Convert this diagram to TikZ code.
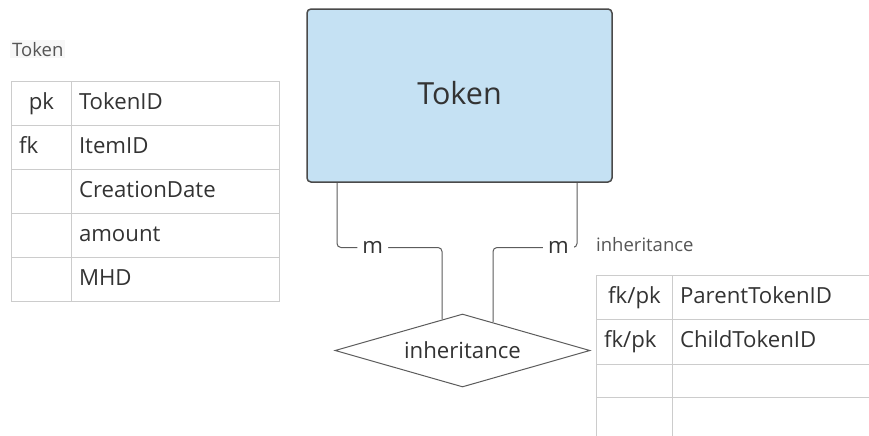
\documentclass[tikz,border=0pt]{standalone}
\usepackage{fontspec}
\setmainfont{Open Sans}
\usetikzlibrary{shapes.geometric}

\definecolor{entityfill}{HTML}{C5E1F3}
\definecolor{entityline}{HTML}{4A4A4A}
\definecolor{gridline}{HTML}{CCCCCC}
\definecolor{linkline}{HTML}{5C5C5C}
\definecolor{ink}{HTML}{333333}
\definecolor{caption}{HTML}{555555}

\newcommand{\attrfont}{\fontsize{22.2bp}{26bp}\selectfont}
\newcommand{\titlefont}{\fontsize{18.5bp}{22bp}\selectfont}
\newcommand{\entityfont}{\fontsize{30.5bp}{36bp}\selectfont}

\begin{document}
\begin{tikzpicture}[
	every node/.style={text=ink},
	cell/.style={draw=gridline, line width=1bp, anchor=north west, minimum height=44bp,
		inner xsep=7.5bp, inner ysep=0bp, text height=16bp, text depth=4.5bp,
		font=\attrfont, align=left},
	title/.style={anchor=base west, text=caption, font=\titlefont, inner sep=2bp},
	entity/.style={rectangle, rounded corners=4bp, draw=entityline, line width=1.5bp,
		fill=entityfill, minimum width=305bp, minimum height=173bp, text depth=6bp,
		font=\entityfont},
	relation/.style={diamond, aspect=3.5, draw=linkline, line width=1bp, fill=white,
		minimum width=255bp, minimum height=73bp, inner sep=0bp, font=\attrfont},
	link/.style={draw=linkline, line width=1bp, rounded corners=4bp},
	card/.style={fill=white, inner xsep=5bp, inner ysep=2bp, font=\attrfont}
]
	\path[use as bounding box] (0bp,0bp) rectangle (869bp,-436bp);
	\clip (0bp,0bp) rectangle (869bp,-436bp);

	% table Token
	\node[title, fill=black!3] (tk-title) at (10bp,-56bp) {Token};
	\node[cell, text width=45bp, align=center] (tk-k1) at (11bp,-81bp)  {pk};
	\node[cell, text width=193bp]              (tk-f1) at (71bp,-81bp)  {TokenID};
	\node[cell, text width=45bp]               (tk-k2) at (11bp,-125bp) {fk};
	\node[cell, text width=193bp]              (tk-f2) at (71bp,-125bp) {ItemID};
	\node[cell, text width=45bp]               (tk-k3) at (11bp,-169bp) {};
	\node[cell, text width=193bp]              (tk-f3) at (71bp,-169bp) {CreationDate};
	\node[cell, text width=45bp]               (tk-k4) at (11bp,-213bp) {};
	\node[cell, text width=193bp]              (tk-f4) at (71bp,-213bp) {amount};
	\node[cell, text width=45bp]               (tk-k5) at (11bp,-257bp) {};
	\node[cell, text width=193bp]              (tk-f5) at (71bp,-257bp) {MHD};

	% table inheritance
	\node[title] (inh-title) at (594bp,-251bp) {inheritance};
	\node[cell, text width=61bp, align=center] (ih-k1) at (596bp,-275bp) {fk/pk};
	\node[cell, text width=215bp]              (ih-f1) at (672bp,-275bp) {ParentTokenID};
	\node[cell, text width=61bp, minimum height=45bp] (ih-k2) at (596bp,-319bp) {fk/pk};
	\node[cell, text width=215bp, minimum height=45bp] (ih-f2) at (672bp,-319bp) {ChildTokenID};
	\node[cell, text width=61bp, minimum height=33bp] (ih-k3) at (596bp,-364bp) {};
	\node[cell, text width=215bp, minimum height=33bp] (ih-f3) at (672bp,-364bp) {};
	\node[cell, text width=61bp]               (ih-k4) at (596bp,-397bp) {};
	\node[cell, text width=215bp]              (ih-f4) at (672bp,-397bp) {};

	% ER part
	\node[entity]   (token) at (459.5bp,-95.5bp)  {Token};
	\node[relation] (inh)   at (462.5bp,-350.5bp) {inheritance};

	\draw[link] ([xshift=-122.5bp]token.south)
		|- node[pos=0.67, card] (m-left) {m} ([xshift=-20.5bp, yshift=66bp]inh.north)
		-- ([xshift=-20.5bp, yshift=-5.9bp]inh.north);
	\draw[link] ([xshift=117.5bp]token.south)
		|- node[pos=0.61, card] (m-right) {m} ([xshift=30.5bp, yshift=66bp]inh.north)
		-- ([xshift=30.5bp, yshift=-8.7bp]inh.north);
\end{tikzpicture}
\end{document}
